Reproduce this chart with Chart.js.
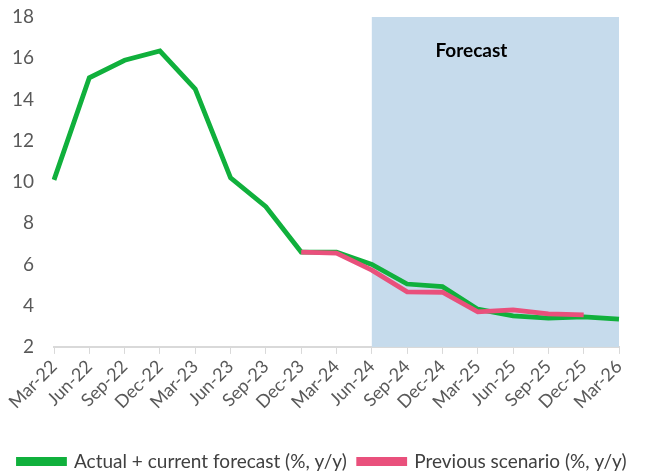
<!DOCTYPE html>
<html>
<head>
<meta charset="utf-8">
<script src="https://cdn.jsdelivr.net/npm/chart.js"></script>
<style>
  html, body { margin: 0; padding: 0; background: #fff; }
  #wrap { width: 645px; height: 471px; }
</style>
</head>
<body>
<div id="wrap"><canvas id="myChart" width="645" height="471"></canvas></div>
<script>
// data
const quarters = ['Mar-22', 'Jun-22', 'Sep-22', 'Dec-22', 'Mar-23', 'Jun-23', 'Sep-23', 'Dec-23', 'Mar-24',
  'Jun-24', 'Sep-24', 'Dec-24', 'Mar-25', 'Jun-25', 'Sep-25', 'Dec-25', 'Mar-26'];
const currentForecast = [10.1, 15.05, 15.9, 16.35, 14.5, 10.2, 8.8, 6.6, 6.6,
  6.0, 5.05, 4.92, 3.83, 3.5, 3.4, 3.46, 3.35];
const previousScenario = [null, null, null, null, null, null, null, 6.6, 6.55,
  5.72, 4.67, 4.65, 3.7, 3.8, 3.6, 3.55, null];
const yTicks = [2, 4, 6, 8, 10, 12, 14, 16, 18];
const forecastStart = 'Jun-24';
const forecastEnd = 'Mar-26';

const FONT = "Lato, sans-serif";
const GREEN = '#10B03C';
const PINK = '#E9507C';

// shaded forecast box + label
const forecastBox = {
  id: 'forecastBox',
  beforeDatasetsDraw(chart) {
    const { ctx, chartArea, scales } = chart;
    const x0 = scales.x.getPixelForValue(quarters.indexOf(forecastStart));
    const x1 = scales.x.getPixelForValue(quarters.indexOf(forecastEnd));
    const yTop = scales.y.getPixelForValue(18);
    ctx.save();
    ctx.fillStyle = '#C6DBEC';
    ctx.fillRect(x0, yTop, x1 - x0, chartArea.bottom - yTop);
    ctx.fillStyle = '#000';
    ctx.font = "bold 19px " + FONT;
    ctx.textAlign = 'center';
    ctx.textBaseline = 'middle';
    ctx.fillText('Forecast', (x0 + x1) / 2 - 24, yTop + 34);
    ctx.restore();
  }
};

const ctx = document.getElementById('myChart').getContext('2d');
new Chart(ctx, {
  type: 'line',
  data: {
    labels: quarters,
    datasets: [
      {
        label: 'Actual + current forecast (%, y/y)',
        data: currentForecast,
        borderColor: GREEN,
        backgroundColor: GREEN,
        borderWidth: 4.8,
        pointRadius: 0,
        tension: 0,
        order: 1,
      },
      {
        label: 'Previous scenario (%, y/y)',
        data: previousScenario,
        borderColor: PINK,
        backgroundColor: PINK,
        borderWidth: 4.8,
        pointRadius: 0,
        tension: 0,
        spanGaps: false,
        order: 0,
      },
    ],
  },
  options: {
    responsive: false,
    animation: false,
    layout: { padding: { top: 0, left: 0, right: 0, bottom: -10 } },
    plugins: {
      tooltip: { enabled: false },
      legend: {
        position: 'bottom',
        labels: {
          sort: (a, b) => a.datasetIndex - b.datasetIndex,
          boxWidth: 46,
          boxHeight: 4,
          padding: 12,
          color: '#404040',
          font: { family: FONT, size: 19 },
        },
      },
    },
    scales: {
      x: {
        offset: false,
        afterFit: (s) => { s.paddingRight = 26; s.height += 25; },
        grid: { drawOnChartArea: false, color: '#D9D9D9', tickLength: 7 },
        border: { color: '#D9D9D9', width: 2 },
        ticks: {
          autoSkip: false,
          maxRotation: 45,
          minRotation: 45,
          padding: 2,
          color: '#595959',
          font: { family: FONT, size: 18 },
        },
      },
      y: {
        min: 2,
        max: 18,
        afterFit: (s) => { s.width = 54; s.paddingTop = 17; s.paddingBottom = 0; },
        afterBuildTicks: (s) => { s.ticks = yTicks.map(v => ({ value: v })); },
        grid: { display: false, drawTicks: false },
        border: { display: false },
        ticks: {
          padding: 20,
          color: '#595959',
          font: { family: FONT, size: 19 },
        },
      },
    },
  },
  plugins: [forecastBox],
});
</script>
</body>
</html>
